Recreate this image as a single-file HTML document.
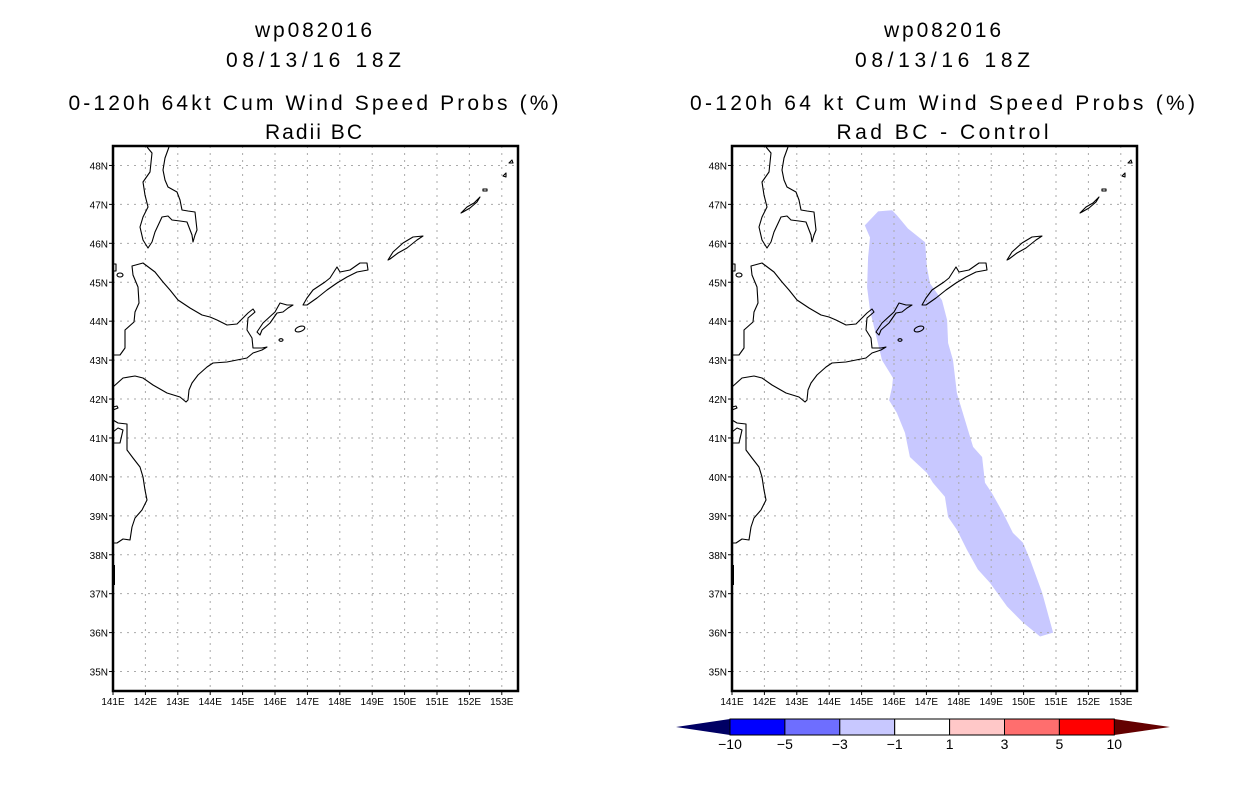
<!DOCTYPE html>
<html><head><meta charset="utf-8"><style>
html,body{margin:0;padding:0;background:#fff;width:1236px;height:800px;overflow:hidden}
svg{display:block;font-family:"Liberation Sans","DejaVu Sans",sans-serif}
</style></head><body>
<svg id="chart" width="1236" height="800" viewBox="0 0 1236 800">
<defs>
<g id="coast" fill="none" stroke="#000" stroke-width="1.1" stroke-linejoin="round">
<path d="M113,355 L120,355 L125,348 L125,330 L134,322 L135,312 L139,303 L138,287 L133,275 L132,266 L143,263 L155,272 L163,282 L170,290 L178,300 L190,308 L202,315 L210,317 L217,320 L227,325 L237,324 L243,318 L248,313 L253,309 L255,312 L248,318 L247,330 L252,338 L253,348 L262,348 L267,347 L262,350 L253,353 L247,358 L237,360 L227,362 L213,363 L207,367 L198,375 L192,383 L189,390 L188,400 L186,402 L180,397 L167,393 L153,385 L143,378 L135,376 L123,378 L113,387"/>
<path d="M257,332 L263,323 L275,312 L280,303 L287,305 L293,305 L288,308 L283,312 L277,313 L270,323 L262,330 L260,335 Z"/>
<ellipse cx="300" cy="329" rx="5" ry="2.5" transform="rotate(-20 300 329)"/>
<ellipse cx="281" cy="340" rx="2" ry="1.3"/>
<ellipse cx="120" cy="275" rx="3" ry="2"/>
<path d="M303,305 L307,298 L313,290 L325,282 L330,278 L337,267 L340,272 L350,270 L360,263 L367,263 L368,270 L357,272 L347,277 L337,283 L327,290 L317,298 L307,305 Z"/>
<path d="M388,260 L393,252 L403,243 L413,237 L423,236 L417,240 L407,248 L398,253 L390,259 Z"/>
<path d="M461,213 L467,207 L474,203 L480,197 L477,202 L470,208 L463,212 Z"/>
<path d="M483,189 L487,189 L487,191 L483,191 Z"/>
<path d="M503,176 L506,173 L506,177 Z"/>
<path d="M509,163 L512,160 L513,163 Z"/>
<path d="M147,147 L152,153 L150,172 L143,182 L145,195 L148,207 L143,217 L140,227 L143,240 L148,248 L152,242 L155,232 L162,217 L168,216 L172,220 L180,221 L187,222 L192,235 L193,242 L195,235 L197,230 L195,212 L188,211 L182,210 L180,200 L177,192 L168,187 L165,180 L163,170 L165,158 L169,147"/>
<path d="M113,407 L117,406 L118,408 L113,410 M113,420 L118,423 L127,424 L127,450 L133,458 L140,467 L143,477 L145,490 L147,500 L142,510 L135,518 L132,527 L130,540 L123,539 L117,543 L113,543 M113,432 L118,428 L123,430 L120,443 L113,443"/>
<path d="M113,264 L116,264 L116,271 L113,271"/>
<path d="M114,565 L114,585" stroke-width="2"/>
</g>
</defs>
<g id="panels"></g>
<g id="colorbar"></g>
</svg>
<script>
// Axis tick data
const latTicks = [48,47,46,45,44,43,42,41,40,39,38,37,36,35];
const lonTicks = [141,142,143,144,145,146,147,148,149,150,151,152,153];
// Probability difference contour (-3..-1 %) in the Rad BC - Control panel, [lon, lat]
const shadeLon = [145.10,145.51,145.94,146.09,146.43,146.96,147.02,147.11,147.48,147.64,147.67,147.82,147.94,148.19,148.44,148.72,148.81,149.02,149.36,149.67,149.98,150.20,150.57,150.91,150.51,149.98,149.49,148.96,148.59,148.25,147.94,147.67,147.57,147.20,147.02,146.49,146.34,146.09,145.85,145.94,145.97,145.63,145.48,145.26,145.17,145.20,145.26];
const shadeLat = [46.46,46.82,46.85,46.72,46.38,46.03,45.38,44.97,44.54,44.03,43.44,43.00,42.15,41.46,40.77,40.51,39.85,39.59,39.08,38.56,38.31,37.87,37.03,36.00,35.90,36.26,36.67,37.28,37.62,38.13,38.64,38.97,39.49,39.85,40.10,40.51,41.13,41.64,41.97,42.31,42.54,43.00,43.51,44.28,44.87,45.64,46.15];
// Colorbar
const cbLabels = ["-10","-5","-3","-1","1","3","5","10"];
const cbColors = ["#0000ff","#6e6eff","#c8c8ff","#ffffff","#ffc8c8","#ff6e6e","#ff0000"];

const NS="http://www.w3.org/2000/svg";
function mk(tag, attrs, parent){const e=document.createElementNS(NS,tag);for(const k in attrs)e.setAttribute(k,attrs[k]);parent.appendChild(e);return e;}
const LON0=141, LON1=153.5, LAT0=34.5, LAT1=48.5;
const FW=405, FH=545, FT=146;
function panel(x0, titles, widths, withShade, name){
  const g=mk('g',{},document.getElementById('panels'));
  
  
  const xs=lon=>x0+(lon-LON0)/(LON1-LON0)*FW;
  const ys=lat=>FT+(LAT1-lat)/(LAT1-LAT0)*FH;
  const cx=x0+FW/2+(x0>600?8:-2);
  const ty=[30,60,103,132];
  titles.forEach((t,i)=>{
    const el=mk('text',{x:cx,y:ty[i]+7,'text-anchor':'middle','font-size':'21',textLength:widths[i],lengthAdjust:'spacing'},g);
    
    
    el.textContent=t;
  });
  if(withShade){
    const pts=shadeLon.map((lo,i)=>xs(lo).toFixed(1)+','+ys(shadeLat[i]).toFixed(1)).join(' ');
    const p=mk('polygon',{points:pts,fill:'#c8c8ff',stroke:'none'},g);
    
    
  }
  latTicks.forEach(lat=>{
    const y=ys(lat);
    const l=mk('line',{x1:x0,x2:x0+FW,y1:y,y2:y,stroke:'#aaa','stroke-dasharray':'2,5'},g);
    
    
    mk('line',{x1:x0-4,x2:x0,y1:y,y2:y,stroke:'#000'},g);
    const t=mk('text',{x:x0-5,y:y+4,'text-anchor':'end','font-size':'10'},g);
    
    
    t.textContent=lat+'N';
  });
  lonTicks.forEach(lon=>{
    const x=xs(lon);
    const l=mk('line',{x1:x,x2:x,y1:FT,y2:FT+FH,stroke:'#aaa','stroke-dasharray':'2,5'},g);
    
    
    mk('line',{x1:x,x2:x,y1:FT+FH,y2:FT+FH+4,stroke:'#000'},g);
    const t=mk('text',{x:x,y:FT+FH+14,'text-anchor':'middle','font-size':'10'},g);
    
    
    t.textContent=lon+'E';
  });
  const u=mk('use',{href:'#coast',transform:'translate('+(x0-113)+',0)'},g);
  
  
  const f=mk('rect',{x:x0,y:FT,width:FW,height:FH,fill:'none',stroke:'#000','stroke-width':'2.5'},g);
  
  
}
panel(113,["wp082016","08/13/16 18Z","0-120h 64kt Cum Wind Speed Probs (%)","Radii BC"],[117,175,490,97],false,'left-map-panel');
panel(732,["wp082016","08/13/16 18Z","0-120h 64 kt Cum Wind Speed Probs (%)","Rad BC - Control"],[117,175,505,212],true,'right-map-panel');

// colorbar
const cb=document.getElementById('colorbar');
const bx0=730, bw=54.9, by=719, bh=16;
const lt=mk('polygon',{points:`676,727 ${bx0},${by} ${bx0},${by+bh}`,fill:'#000064'},cb);


const xe=bx0+bw*cbColors.length;
const rt=mk('polygon',{points:`${xe},${by} 1170,727 ${xe},${by+bh}`,fill:'#640000'},cb);


cbColors.forEach((c,i)=>{
  const r=mk('rect',{x:bx0+i*bw,y:by,width:bw,height:bh,fill:c,stroke:'#000','stroke-width':'1'},cb);
  
  
});
cbLabels.forEach((s,i)=>{
  const t=mk('text',{x:bx0+i*bw,y:by+bh+14,'text-anchor':'middle','font-size':'14'},cb);
  
  
  t.textContent=s.replace('-','\u2212');
});
</script>
</body></html>
